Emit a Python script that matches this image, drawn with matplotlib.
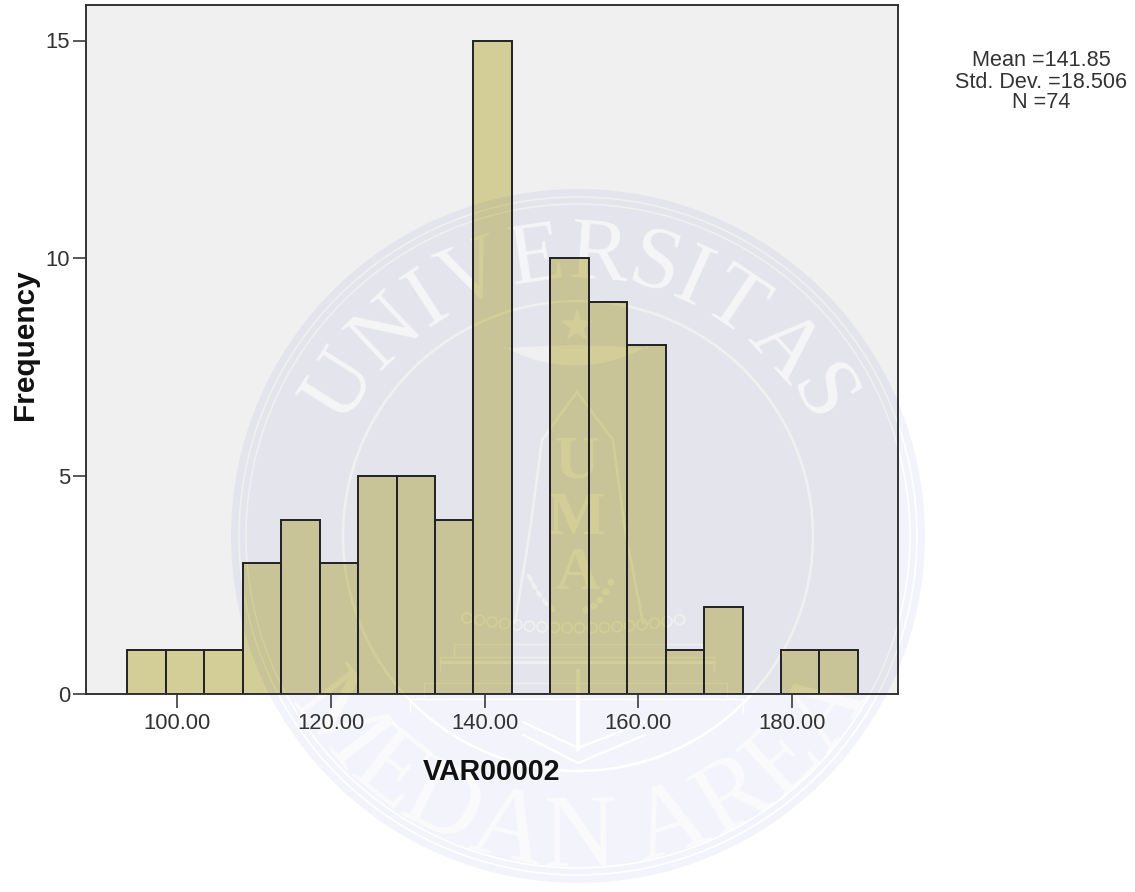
import numpy as np
import matplotlib
matplotlib.use('Agg')
import matplotlib.pyplot as plt
from matplotlib.figure import Figure
from matplotlib.backends.backend_agg import FigureCanvasAgg
from matplotlib.patches import Circle, Polygon, Ellipse
from matplotlib.path import Path
from matplotlib.textpath import TextPath
from matplotlib.font_manager import FontProperties

bin_lefts = [93.55,98.55,103.55,108.55,113.55,118.55,123.55,128.55,133.55,138.55,143.55,148.55,153.55,158.55,163.55,168.55,173.55,178.55,183.55]
counts = [1,1,1,3,4,3,5,5,4,15,0,10,9,8,1,2,0,1,1]
bin_width = 5.0
x_ticks = [100,120,140,160,180]
y_ticks = [0,5,10,15]
stats_text = "Mean =141.85\nStd. Dev. =18.506\nN =74"
x_title = "VAR00002"
y_title = "Frequency"
watermark_top = "UNIVERSITAS"
watermark_bottom = "MEDAN AREA"
watermark_center = "UMA"

plt.rcParams['font.family'] = ['Liberation Sans', 'DejaVu Sans']
W, H = 1135, 892
L, R, T, B = 86, 898, 5, 694
CX, CY, RAD = 578, 536, 347
INK = '#2b2b2b'
BAR = '#d3ce97'

def overlay_axes(fig, z):
    a = fig.add_axes([0, 0, 1, 1], facecolor='none', zorder=z)
    a.set_xlim(0, W); a.set_ylim(H, 0); a.axis('off')
    return a

def letters(a, txt, rb, start, end, size, bottom, **kw):
    fp = FontProperties(family='Liberation Serif', size=size)
    widths = [TextPath((0, 0), c, prop=fp).get_extents().width if c != ' ' else size*0.12 for c in txt]
    adv = np.array(widths) + size*0.1
    edges = np.concatenate([[0], np.cumsum(adv)])
    mids = (edges[:-1] + edges[1:]) / 2 / edges[-1]
    for c, m in zip(txt, mids):
        if c == ' ':
            continue
        ang = start + (end - start) * m
        r = np.deg2rad(ang)
        a.text(CX + rb*np.cos(r), CY - rb*np.sin(r), c, fontsize=size, family='Liberation Serif',
               rotation=ang + 90 if bottom else ang - 90, rotation_mode='anchor',
               ha='center', va='baseline', **kw)

def all_letters(a, **kw):
    letters(a, watermark_top, 258, 155, 25, 64, False, **kw)
    letters(a, watermark_bottom, 330, 210, 332, 74, True, **kw)
    for c, y in zip(watermark_center, [478, 534, 589]):
        a.text(577, y, c, fontsize=44, family='Liberation Serif', fontweight='bold',
               ha='center', va='baseline', **kw)

def draw_decor(a):
    k = 'black'
    for rr, lw in [(339, 1.1), (332, 1.1), (235, 1.8)]:
        a.add_patch(Circle((CX, CY), rr, fc='none', ec=k, lw=lw))
    t = np.linspace(0, 2*np.pi, 11)[:-1] + np.pi/2
    rad = np.where(np.arange(10) % 2 == 0, 17, 7)
    a.add_patch(Polygon(np.c_[577 + rad*np.cos(t), 326 - rad*np.sin(t)], fc=k, ec='none'))
    xs = np.linspace(-72, 72, 40)
    a.fill_between(575 + xs, 345 + 3*(xs/72)**2, 365 - 19*(xs/72)**2, color=k, lw=0)
    a.plot([515, 530, 542, 577, 613, 625, 643], [623, 530, 440, 392, 440, 530, 623], color=k, lw=1.8)
    xc = np.arange(467, 692, 12.5)
    for x in xc:
        a.add_patch(Circle((x, 618 + 10*(1 - ((x-578)/111)**2)), 5, fc='none', ec=k, lw=1.2))
    for (x0, x1, y) in [(454, 702, 644), (440, 714, 657), (424, 727, 683), (410, 743, 699)]:
        a.plot([x0, x1, x1], [y, y, y+13], color=k, lw=1.0)
        a.plot([x0, x0], [y, y+13], color=k, lw=1.0)
    a.plot([442, 714], [662, 662], color=k, lw=2.2)
    a.plot([578, 578], [671, 749], color=k, lw=3)
    a.plot([523, 578, 645], [735, 763, 735], color=k, lw=1.5)
    a.plot([523, 578, 645], [722, 748, 722], color=k, lw=1.5)
    for x, y in [(600, 600), (606, 592), (611, 582), (594, 606), (586, 610)]:
        a.add_patch(Circle((x, y), 3.5, fc=k, ec='none'))
    for x, y in [(530, 578), (534, 586), (539, 594), (545, 602), (552, 608)]:
        a.add_patch(Ellipse((x, y), 4, 9, angle=-35, fc=k, ec='none'))

def hole_mask(with_letters):
    f = Figure(figsize=(W/100, H/100), dpi=100, facecolor='black')
    FigureCanvasAgg(f)
    a = f.add_axes([0, 0, 1, 1], facecolor='black')
    a.set_xlim(0, W); a.set_ylim(H, 0); a.axis('off')
    a.add_patch(Circle((CX, CY), RAD, fc='white', ec='none'))
    f.canvas.draw()
    disc = np.asarray(f.canvas.buffer_rgba())[..., 0].astype(float) / 255
    f2 = Figure(figsize=(W/100, H/100), dpi=100, facecolor='white')
    FigureCanvasAgg(f2)
    b = f2.add_axes([0, 0, 1, 1], facecolor='white')
    b.set_xlim(0, W); b.set_ylim(H, 0); b.axis('off')
    draw_decor(b)
    if with_letters:
        all_letters(b, color='black')
    f2.canvas.draw()
    keep = np.asarray(f2.canvas.buffer_rgba())[..., 0].astype(float) / 255
    rgba = np.zeros((H, W, 4))
    rgba[..., 2] = 170/255
    rgba[..., 3] = 0.05 * disc * keep
    return rgba

fig = plt.figure(figsize=(W/100, H/100), dpi=100, facecolor='white')
rect = [L/W, 1-B/H, (R-L)/W, (B-T)/H]
bg = fig.add_axes(rect, facecolor='#f0f0f0', zorder=0)
bg.set_xticks([]); bg.set_yticks([])
for s in bg.spines.values():
    s.set_visible(False)

back = overlay_axes(fig, 1)
back.imshow(hole_mask(False), extent=(0, W, H, 0), interpolation='none', aspect='auto')
back.set_xlim(0, W); back.set_ylim(H, 0)
all_letters(back, color='white', alpha=0.65)

ax = fig.add_axes(rect, zorder=2)
ax.patch.set_visible(False)
x0 = 177.0; sx = 7.69
ax.set_xlim(100-(x0-L)/sx, 100+(R-x0)/sx)
sy = (694-40.5)/15.0
ax.set_ylim(0, (694-T)/sy)
bars = ax.bar(bin_lefts, counts, width=bin_width, align='edge', color=BAR, edgecolor='#222222', linewidth=1.4, zorder=2)
ax.set_xticks(x_ticks, [f"{v:.2f}" for v in x_ticks])
ax.set_yticks(y_ticks, [str(v) for v in y_ticks])
ax.tick_params(axis='x', labelsize=15.8, length=10, width=1.1, color=INK, labelcolor='#333333', pad=4)
ax.tick_params(axis='y', labelsize=15.8, length=9.5, width=1.1, color=INK, labelcolor='#333333', pad=2)
for s in ax.spines.values():
    s.set_color('#333333'); s.set_linewidth(1.4)

front = overlay_axes(fig, 3)
im = front.imshow(hole_mask(True), extent=(0, W, H, 0), interpolation='none', aspect='auto')
front.set_xlim(0, W); front.set_ylim(H, 0)
clip = Path.make_compound_path(*[p.get_path().transformed(p.get_patch_transform()) for p in bars if p.get_height() > 0])
im.set_clip_path(clip, ax.transData)

fig.text(492/W, 1-772/H, x_title, fontsize=20.6, fontweight='bold', ha='center', va='center', color='#111111', zorder=5)
fig.text(25/W, 1-345/H, y_title, fontsize=21.4, fontweight='bold', rotation=90, ha='center', va='center', color='#111111', zorder=5)
fig.text(1041/W, 1-82/H, stats_text, fontsize=15.6, ha='center', va='center', color='#333333', linespacing=1.0, zorder=5)
fig.savefig('out.png', dpi=100)
